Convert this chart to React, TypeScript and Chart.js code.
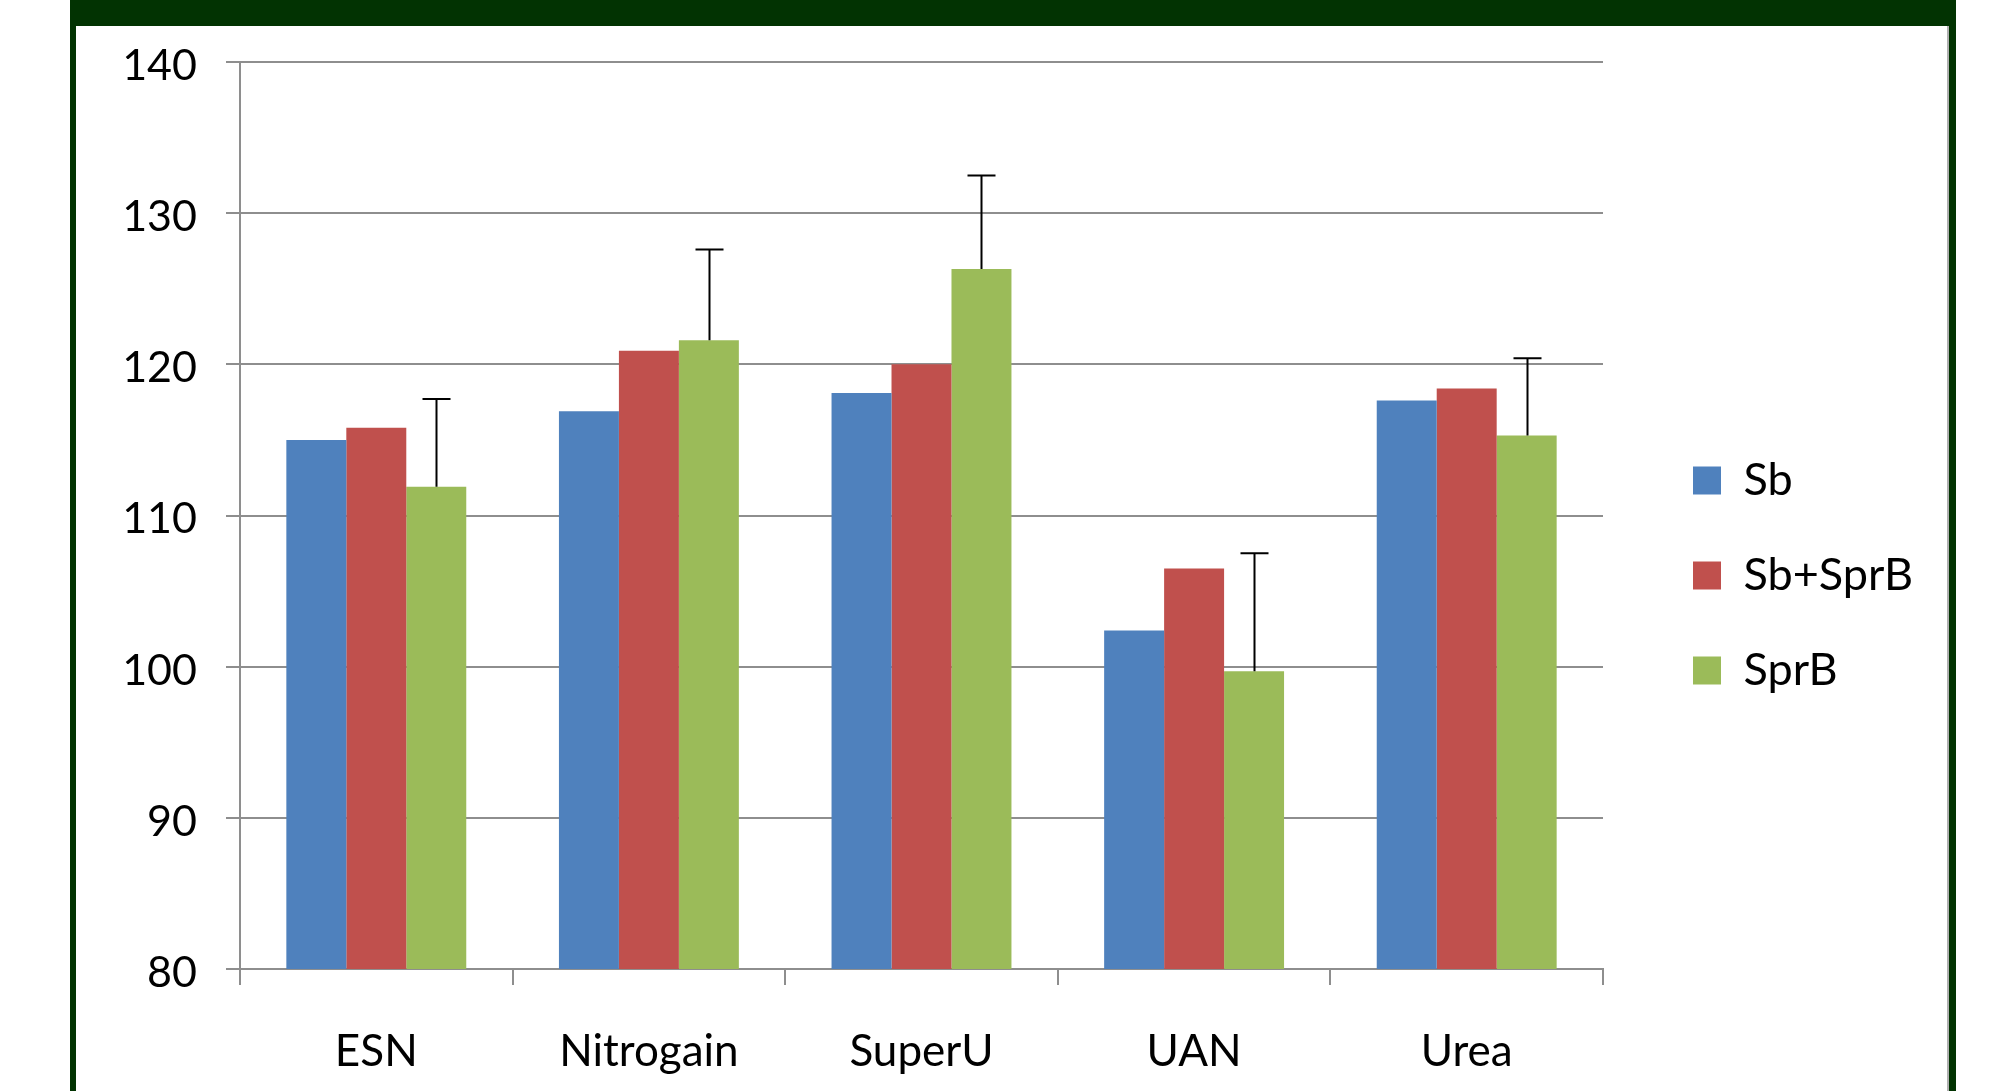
import React, { useEffect, useRef } from 'react';
import { Chart, registerables } from 'chart.js';

Chart.register(...registerables);

// ---- Data ----
const categories = ['ESN', 'Nitrogain', 'SuperU', 'UAN', 'Urea'];
const seriesNames = ['Sb', 'Sb+SprB', 'SprB'];
const sbValues = [115.0, 116.9, 118.1, 102.4, 117.6];
const sbSprBValues = [115.8, 120.9, 120.0, 106.5, 118.4];
const sprBValues = [111.9, 121.6, 126.3, 99.7, 115.3];
const sprBErrors = [5.8, 6.0, 6.2, 7.8, 5.1];
const yMin = 80;
const yMax = 140;
const yStep = 10;

const seriesColors = ['#4F81BD', '#C0504D', '#9BBB59'];

// ---- Layout constants ----
const CANVAS_W = 1871;
const CANVAS_H = 1065;
const AREA_LEFT = 164;
const AREA_RIGHT = 1527;
const AREA_TOP = 36;
const AREA_BOTTOM = 943;
const LEGEND_PAD = 50;
const LEGEND_BOX_X = 1617;
const LEGEND_FIRST_Y = 432;
const FONT = "Lato, 'Open Sans', sans-serif";

const errorBarsPlugin = {
  id: 'errorBars',
  afterDatasetsDraw(chart: any, _args: any, opts: any) {
    const idx = opts.datasetIndex;
    const errs: number[] = opts.errors;
    if (idx == null || !errs) return;
    const ds = chart.data.datasets[idx];
    const meta = chart.getDatasetMeta(idx);
    const yScale = chart.scales.y;
    const ctx = chart.ctx;
    ctx.save();
    ctx.strokeStyle = '#000000';
    ctx.lineWidth = 2;
    meta.data.forEach((bar: any, j: number) => {
      const v = ds.data[j] as number;
      const top = yScale.getPixelForValue(v + errs[j]);
      const x = Math.round(bar.x) + 0.5;
      ctx.beginPath();
      ctx.moveTo(x, bar.y);
      ctx.lineTo(x, top);
      ctx.moveTo(x - 14, top);
      ctx.lineTo(x + 14, top);
      ctx.stroke();
    });
    ctx.restore();
  },
};

const legendPlacePlugin = {
  id: 'legendPlace',
  beforeLayout(chart: any) {
    const lg = chart.legend;
    if (lg && !lg.__patched) {
      const orig = lg.fit;
      lg.fit = function () {
        orig.call(this);
        this.width = CANVAS_W - AREA_RIGHT;
      };
      lg.__patched = true;
    }
  },
  afterLayout(chart: any) {
    const lg = chart.legend;
    if (!lg) return;
    const dx = LEGEND_BOX_X - LEGEND_PAD - lg.left;
    const dy = LEGEND_FIRST_Y - LEGEND_PAD - lg.top;
    lg.left += dx;
    lg.right += dx;
    lg.top += dy;
    lg.bottom += dy;
  },
};

export default function App() {
  const canvasRef = useRef<HTMLCanvasElement | null>(null);

  useEffect(() => {
    if (!canvasRef.current) return;
    const gridColor = '#8e8e8e';
    const chart = new Chart(canvasRef.current, {
      type: 'bar',
      data: {
        labels: categories,
        datasets: [
          { label: seriesNames[0], data: sbValues, backgroundColor: seriesColors[0] },
          { label: seriesNames[1], data: sbSprBValues, backgroundColor: seriesColors[1] },
          { label: seriesNames[2], data: sprBValues, backgroundColor: seriesColors[2] },
        ],
      },
      options: {
        responsive: false,
        maintainAspectRatio: false,
        animation: false,
        devicePixelRatio: 1,
        layout: { padding: { top: AREA_TOP, right: 0, bottom: 0, left: 0 } },
        datasets: {
          bar: { categoryPercentage: 0.66, barPercentage: 1.0, borderWidth: 0 },
        },
        scales: {
          x: {
            offset: true,
            grid: {
              display: true,
              drawOnChartArea: false,
              drawTicks: true,
              tickLength: 16,
              offset: true,
              color: gridColor,
              lineWidth: 2,
            },
            border: { display: true, color: gridColor, width: 2 },
            ticks: {
              color: '#000000',
              font: { family: FONT, size: 44 },
              padding: 40,
              maxRotation: 0,
            },
            afterFit(scale: any) {
              scale.height = CANVAS_H - AREA_BOTTOM;
              scale.paddingLeft = 0;
              scale.paddingRight = 0;
            },
          },
          y: {
            min: yMin,
            max: yMax,
            ticks: {
              stepSize: yStep,
              color: '#000000',
              font: { family: FONT, size: 43 },
              padding: 29,
              labelOffset: 4,
            },
            grid: {
              color: gridColor,
              lineWidth: 2,
              drawTicks: true,
              tickLength: 14,
            },
            border: { display: true, color: gridColor, width: 2 },
            afterFit(scale: any) {
              scale.width = AREA_LEFT;
              scale.paddingTop = 0;
              scale.paddingBottom = 0;
            },
          },
        },
        plugins: {
          legend: {
            display: true,
            position: 'right',
            align: 'start',
            labels: {
              boxWidth: 28,
              boxHeight: 28,
              padding: LEGEND_PAD,
              color: '#000000',
              font: { family: FONT, size: 45 },
            },
          },
          tooltip: { enabled: false },
          errorBars: { datasetIndex: 2, errors: sprBErrors },
        } as any,
      },
      plugins: [errorBarsPlugin, legendPlacePlugin],
    } as any);
    return () => chart.destroy();
  }, []);

  const green = '#023302';
  return (
    <div
      style={{
        position: 'fixed',
        left: 0,
        top: 0,
        width: 1992,
        height: 1091,
        background: '#ffffff',
        overflow: 'hidden',
      }}
    >
      <div style={{ position: 'absolute', left: 70, top: 0, width: 1886, height: 26, background: green }} />
      <div style={{ position: 'absolute', left: 70, top: 0, width: 6, height: 1091, background: green }} />
      <div style={{ position: 'absolute', left: 1947, top: 26, width: 2, height: 1065, background: '#b0b0b0' }} />
      <div style={{ position: 'absolute', left: 1949, top: 0, width: 7, height: 1091, background: green }} />
      <canvas
        ref={canvasRef}
        width={CANVAS_W}
        height={CANVAS_H}
        style={{ position: 'absolute', left: 76, top: 26, width: CANVAS_W, height: CANVAS_H }}
      />
    </div>
  );
}
